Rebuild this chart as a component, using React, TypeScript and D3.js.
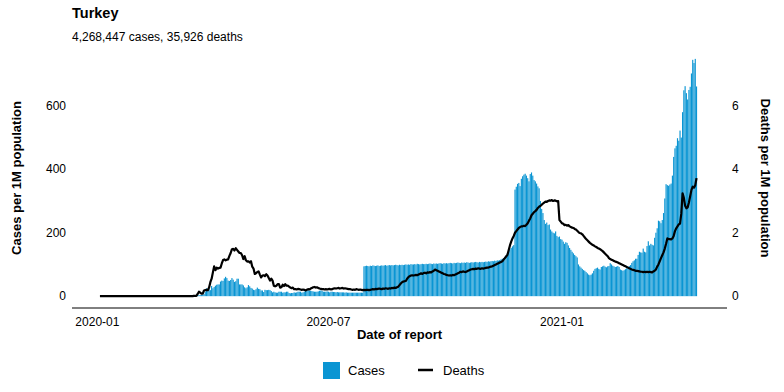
import * as d3 from 'd3';

// daily values per 1M population, first value is 2020-03-11
const seriesStart = new Date(2020, 2, 11);
const reportStart = new Date(2020, 0, 3);

const casesPerMillion = [
  // 2020-03 (from 11th)
  0, 0, 0.1, 0, 0.1, 0.3, 0.6, 1.1, 2, 3.7, 3.3, 3.4, 3.5, 4.1, 6.7, 14, 25, 20, 22, 19, 32,
  // 2020-04
  25, 29, 33, 36, 37, 37, 46, 49, 48, 56, 61, 57, 49, 48, 51, 57, 52, 45, 47, 55, 55, 37, 37, 37, 34, 28, 25, 28, 35, 31,
  // 2020-05
  26, 24, 20, 19, 22, 27, 23, 22, 18, 18, 13, 20, 19, 19, 20, 19, 16, 12, 14, 12, 11, 11, 14, 14, 14, 11, 12, 12, 14, 14, 10,
  // 2020-06
  9, 10, 10, 12, 11, 12, 14, 14, 14, 11, 12, 14, 17, 19, 19, 17, 17, 16, 15, 14, 14, 14, 15, 17, 18, 17, 14, 14, 14, 15,
  // 2020-07
  14, 12, 14, 14, 13, 13, 12, 13, 12, 12, 12, 12, 12, 11, 12, 11, 11, 11, 11, 11, 11, 11, 11, 11, 11, 11, 11, 11, 94, 95, 96,
  // 2020-08
  95, 94, 96, 95, 97, 96, 95, 96, 97, 95, 96, 97, 96, 97, 98, 96, 97, 98, 97, 98, 97, 98, 99, 98, 97, 99, 98, 99, 98, 99, 100,
  // 2020-09
  99, 100, 99, 101, 100, 100, 101, 100, 102, 101, 100, 101, 102, 101, 101, 102, 101, 102, 103, 102, 101, 103, 102, 103, 102, 103, 104, 103, 102, 104,
  // 2020-10
  103, 104, 103, 104, 105, 104, 103, 105, 104, 105, 106, 105, 104, 106, 105, 106, 105, 107, 106, 105, 106, 107, 106, 107, 108, 107, 106, 108, 107, 108, 107,
  // 2020-11
  108, 109, 108, 110, 109, 110, 111, 110, 112, 111, 113, 112, 114, 116, 118, 120, 124, 128, 135, 142, 148, 152, 157, 161, 336, 345, 354, 357, 347, 370,
  // 2020-12
  378, 383, 386, 380, 372, 362, 385, 390, 380, 366, 362, 355, 346, 340, 300, 275, 262, 240, 228, 232, 224, 226, 210, 204, 200, 198, 204, 190, 186, 188, 180,
  // 2021-01
  178, 172, 165, 170, 168, 160, 152, 146, 140, 135, 130, 126, 122, 100, 94, 90, 86, 82, 80, 76, 72, 68, 66, 68, 72, 80, 86, 88, 90, 86, 84,
  // 2021-02
  92, 94, 96, 93, 91, 94, 95, 104, 100, 96, 94, 92, 93, 95, 92, 84, 82, 80, 82, 85, 88, 92, 95, 98, 105, 110, 113, 118,
  // 2021-03
  118, 130, 140, 138, 137, 150, 140, 138, 158, 173, 160, 165, 162, 160, 184, 200, 214, 238, 236, 230, 240, 262, 308, 353, 350, 348, 352, 355, 380, 439, 466,
  // 2021-04
  474, 498, 490, 522, 500, 580, 649, 662, 640, 620, 650, 660, 702, 745, 735, 748, 661,
];

const deathsPerMillion = [
  // 2020-03 (from 11th)
  0, 0, 0, 0, 0, 0, 0.01, 0.01, 0.01, 0.07, 0.14, 0.11, 0.08, 0.08, 0.18, 0.19, 0.2, 0.19, 0.27, 0.44, 0.55,
  // 2020-04
  0.75, 0.94, 0.82, 0.9, 0.87, 0.89, 0.9, 1.03, 1.14, 1.16, 1.13, 1.15, 1.16, 1.27, 1.36, 1.48, 1.49, 1.44, 1.51, 1.46, 1.41, 1.36, 1.36, 1.29, 1.17, 1.26, 1.13, 1.09, 1.1, 1.06,
  // 2020-05
  1.1, 0.93, 0.87, 0.7, 0.72, 0.76, 0.78, 0.68, 0.59, 0.65, 0.66, 0.63, 0.69, 0.65, 0.57, 0.49, 0.55, 0.49, 0.33, 0.31, 0.33, 0.38, 0.38, 0.27, 0.28, 0.36, 0.32, 0.38, 0.33, 0.33, 0.3,
  // 2020-06
  0.27, 0.25, 0.27, 0.22, 0.22, 0.21, 0.23, 0.22, 0.21, 0.2, 0.21, 0.2, 0.18, 0.2, 0.22, 0.21, 0.24, 0.26, 0.28, 0.29, 0.27, 0.28, 0.26, 0.24, 0.23, 0.22, 0.22, 0.21, 0.22, 0.21,
  // 2020-07
  0.22, 0.23, 0.21, 0.22, 0.24, 0.25, 0.24, 0.25, 0.26, 0.24, 0.25, 0.26, 0.24, 0.25, 0.24, 0.23, 0.22, 0.22, 0.21, 0.2, 0.21, 0.2, 0.22, 0.21, 0.2, 0.21, 0.2, 0.19, 0.2, 0.19, 0.2,
  // 2020-08
  0.2, 0.19, 0.2, 0.21, 0.22, 0.21, 0.23, 0.22, 0.23, 0.24, 0.23, 0.22, 0.24, 0.23, 0.25, 0.24, 0.23, 0.25, 0.24, 0.26, 0.25, 0.27, 0.26, 0.28, 0.3, 0.35, 0.4, 0.44, 0.46, 0.47, 0.48,
  // 2020-09
  0.55, 0.6, 0.63, 0.65, 0.66, 0.65, 0.66, 0.67, 0.66, 0.68, 0.7, 0.72, 0.7, 0.73, 0.74, 0.72, 0.75, 0.74, 0.76, 0.75, 0.78, 0.8, 0.84, 0.82, 0.8, 0.78, 0.76, 0.74, 0.72, 0.7,
  // 2020-10
  0.69, 0.67, 0.66, 0.65, 0.66, 0.65, 0.67, 0.66, 0.68, 0.7, 0.72, 0.74, 0.77, 0.76, 0.78, 0.77, 0.76, 0.78, 0.8, 0.82, 0.84, 0.85, 0.86, 0.85, 0.87, 0.86, 0.88, 0.87, 0.86, 0.88, 0.87,
  // 2020-11
  0.88, 0.89, 0.9, 0.9, 0.92, 0.93, 0.94, 0.96, 0.98, 1.0, 1.02, 1.04, 1.06, 1.08, 1.1, 1.15, 1.2, 1.25, 1.3, 1.45, 1.6, 1.72, 1.82, 1.9, 2.0, 2.05, 2.1, 2.15, 2.18, 2.2,
  // 2020-12
  2.2, 2.22, 2.21, 2.25, 2.3, 2.38, 2.45, 2.55, 2.6, 2.65, 2.68, 2.72, 2.78, 2.82, 2.85, 2.88, 2.92, 2.95, 2.98, 2.97, 3.0, 3.02, 3.01, 3.03, 3.0, 3.02, 3.01, 2.99, 3.0, 2.4, 2.35,
  // 2021-01
  2.3, 2.28, 2.24, 2.25, 2.22, 2.24, 2.2, 2.18, 2.16, 2.15, 2.12, 2.1, 2.06, 2.02, 1.99, 1.98, 1.95, 1.9, 1.85, 1.8, 1.76, 1.72, 1.68, 1.65, 1.62, 1.6, 1.57, 1.55, 1.52, 1.5, 1.48,
  // 2021-02
  1.45, 1.42, 1.38, 1.34, 1.3, 1.26, 1.2, 1.17, 1.15, 1.13, 1.11, 1.09, 1.08, 1.06, 1.04, 1.02, 1.0, 0.98, 0.96, 0.94, 0.92, 0.9, 0.88, 0.86, 0.84, 0.83, 0.82, 0.8,
  // 2021-03
  0.8, 0.79, 0.78, 0.77, 0.77, 0.76, 0.77, 0.76, 0.77, 0.76, 0.77, 0.76, 0.75, 0.78, 0.8, 0.84, 0.93, 1.0, 1.1, 1.2, 1.29, 1.38, 1.5, 1.65, 1.82, 1.8, 1.8, 1.79, 1.82, 1.9, 2.05,
  // 2021-04
  2.14, 2.2, 2.26, 2.29, 2.6, 3.24, 3.1, 2.85, 2.77, 2.8, 2.95, 3.15, 3.35, 3.45, 3.42, 3.5, 3.72,
];

const casesTicks = [0, 200, 400, 600];
const deathsTicks = [0, 2, 4, 6];
const xTickLabels = ['2020-01', '2020-07', '2021-01'];

const W = 784;
const H = 392;
const margin = { top: 48, right: 57, bottom: 84, left: 72 };
const font = '"Liberation Sans", Arial, Helvetica, sans-serif';
const blue = '#0a95d3';

export default function App() {
  const parse = d3.timeParse('%Y-%m');
  const rows = casesPerMillion.map((c, i) => ({
    date: d3.timeDay.offset(seriesStart, i),
    cases: c,
    deaths: deathsPerMillion[i],
  }));
  const linePts = [{ date: reportStart, deaths: 0 }, ...rows];

  const x = d3
    .scaleTime()
    .domain([new Date(2019, 11, 12), new Date(2021, 4, 11)])
    .range([margin.left, W - margin.right]);
  const y = d3.scaleLinear().domain([-37.3, 782.3]).range([H - margin.bottom, margin.top]);
  const yD = d3.scaleLinear().domain([-0.373, 7.823]).range([H - margin.bottom, margin.top]);

  const step = x(new Date(2020, 1, 2)) - x(new Date(2020, 1, 1));
  const bw = step * 0.9;

  const line = d3
    .line<any>()
    .x((d) => x(d.date))
    .y((d) => yD(d.deaths));

  const bottom = H - margin.bottom;

  return (
    <svg width={W} height={H} style={{ position: 'absolute', left: 0, top: 0, fontFamily: font }}>
      <rect width={W} height={H} fill="#fff" />
      <text x={72} y={18} fontSize={14.5} fontWeight="bold">Turkey</text>
      <text x={72} y={41} fontSize={12}>4,268,447 cases, 35,926 deaths</text>

      {rows.map((d, i) =>
        d.cases > 0 ? (
          <rect
            key={i}
            x={x(d.date) - bw / 2}
            y={y(d.cases)}
            width={bw}
            height={y(0) - y(d.cases)}
            fill={blue}
          />
        ) : null
      )}
      <path d={line(linePts) || ''} fill="none" stroke="#000" strokeWidth={2.2} strokeLinejoin="round" />

      <line x1={margin.left} x2={W - margin.right} y1={bottom} y2={bottom} stroke="#000" strokeWidth={1} />

      {casesTicks.map((t) => (
        <text key={t} x={66} y={y(t)} dy="0.35em" textAnchor="end" fontSize={12}>{t}</text>
      ))}
      {deathsTicks.map((t) => (
        <text key={t} x={732} y={yD(t)} dy="0.35em" textAnchor="start" fontSize={12}>{t}</text>
      ))}
      {xTickLabels.map((t) => (
        <text key={t} x={x(parse(t)!)} y={326} textAnchor="middle" fontSize={12}>{t}</text>
      ))}

      <text x={(margin.left + W - margin.right) / 2} y={339} textAnchor="middle" fontSize={13} fontWeight="bold">
        Date of report
      </text>
      <text
        transform={`translate(16,${(margin.top + bottom) / 2}) rotate(-90)`}
        dy="0.35em"
        textAnchor="middle"
        fontSize={13}
        fontWeight="bold"
      >
        Cases per 1M population
      </text>
      <text
        transform={`translate(766,${(margin.top + bottom) / 2}) rotate(90)`}
        dy="0.35em"
        textAnchor="middle"
        fontSize={13}
        fontWeight="bold"
      >
        Deaths per 1M population
      </text>

      <g>
        <rect x={323} y={362} width={17} height={17} fill={blue} />
        <text x={348} y={370} dy="0.35em" fontSize={13}>Cases</text>
        <line x1={418} x2={433} y1={370} y2={370} stroke="#000" strokeWidth={2.5} />
        <text x={443} y={370} dy="0.35em" fontSize={13}>Deaths</text>
      </g>
    </svg>
  );
}
